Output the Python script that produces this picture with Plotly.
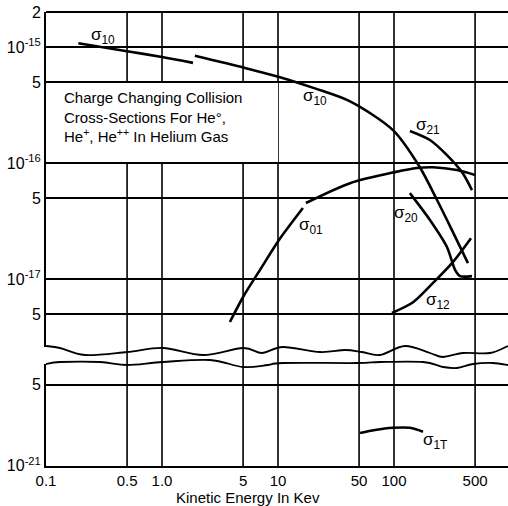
import math
import plotly.graph_objects as go

# ---------------- data ----------------
sigma10_a_x = [0.19, 0.5, 1.0, 1.85]
sigma10_a_y = [1.08e-15, 9.2e-16, 8.2e-16, 7.3e-16]
sigma10_b_x = [1.92, 5.2, 10.4, 20.8, 41.8, 98, 167, 235, 316, 434]
sigma10_b_y = [8.4e-16, 6.6e-16, 5.5e-16, 4.4e-16, 3.4e-16, 1.92e-16, 9.2e-17, 4.8e-17, 2.64e-17, 1.37e-17]
sigma01_a_x = [3.85, 5.0, 7.0, 10.2, 16.4]
sigma01_a_y = [4.26e-18, 7.0e-18, 1.2e-17, 2.17e-17, 4.09e-17]
sigma01_b_x = [17.4, 41.8, 102, 158, 217, 349, 499]
sigma01_b_y = [4.52e-17, 6.7e-17, 8.35e-17, 9.06e-17, 9.2e-17, 8.7e-17, 7.9e-17]
sigma21_x = [137, 204, 286, 385, 470]
sigma21_y = [1.89e-16, 1.58e-16, 1.17e-16, 8.35e-17, 5.85e-17]
sigma20_x = [137, 204, 286, 336, 371, 470]
sigma20_y = [5.5e-17, 3.23e-17, 1.89e-17, 1.2e-17, 1.06e-17, 1.06e-17]
sigma12_x = [96, 146, 217, 316, 461]
sigma12_y = [5.1e-18, 6.3e-18, 9.25e-18, 1.37e-17, 2.25e-17]
sigma1T_x = [51, 68.5, 98, 137, 178]
sigma1T_y = [1.92e-21, 2.04e-21, 2.13e-21, 2.13e-21, 1.97e-21]

x_tickvals = [0.1, 0.5, 1, 5, 10, 50, 100, 500]
x_ticktext = ["0.1", "0.5", "1.0", "5", "10", "50", "100", "500"]
x_gridvals = [0.5, 1, 5, 10, 50, 100, 500]
y_up_tickvals = [2e-15, 1e-15, 5e-16, 1e-16, 5e-17, 1e-17, 5e-18]
y_up_ticktext = ["2", "10<sup>-15</sup>", "5", "10<sup>-16</sup>", "5", "10<sup>-17</sup>", "5"]
y_lo_tickvals = [5e-21, 1e-21]
y_lo_ticktext = ["5", "10<sup>-21</sup>"]

title_lines = ["Charge Changing Collision", "Cross-Sections For He°,",
               "He<sup>+</sup>, He<sup>++</sup> In Helium Gas"]

# ---------------- layout helpers ----------------
W, H = 508, 506
ML, MR, MT, MB = 46, 0, 12, 40
PW, PH = W - ML - MR, H - MT - MB


def P(px, py):
    return (px - ML) / PW, (H - MB - py) / PH


FONT = "Liberation Sans, Arial, sans-serif"
fig = go.Figure()


def add_line(xs, ys, yaxis="y"):
    fig.add_trace(go.Scatter(x=xs, y=ys, mode="lines", yaxis=yaxis,
                             line=dict(color="black", width=2.6, shape="spline", smoothing=0.8),
                             showlegend=False, hoverinfo="skip"))


add_line(sigma10_a_x, sigma10_a_y)
add_line(sigma10_b_x, sigma10_b_y)
add_line(sigma01_a_x, sigma01_a_y)
add_line(sigma01_b_x, sigma01_b_y)
add_line(sigma21_x, sigma21_y)
add_line(sigma20_x, sigma20_y)
add_line(sigma12_x, sigma12_y)
add_line(sigma1T_x, sigma1T_y, yaxis="y2")

shapes = []
# vertical grid lines through both panels
for xv in x_gridvals:
    shapes.append(dict(type="line", xref="x", yref="paper", x0=xv, x1=xv, y0=0, y1=1,
                       line=dict(color="black", width=1.6), layer="below"))
# white box behind the caption
shapes.append(dict(type="rect", xref="x", yref="y", x0=0.1, x1=10, y0=1e-16, y1=5e-16,
                   fillcolor="white", line=dict(width=0), layer="below"))
# top border
shapes.append(dict(type="line", xref="paper", yref="paper", x0=0, x1=1, y0=1, y1=1,
                   line=dict(color="black", width=1.8)))


def smooth_path(pts):
    pp = [P(*p) for p in pts]
    d = "M %.5f,%.5f" % pp[0]
    n = len(pp)
    for i in range(n - 1):
        p0 = pp[i - 1] if i > 0 else pp[i]
        p1 = pp[i]
        p2 = pp[i + 1]
        p3 = pp[i + 2] if i + 2 < n else pp[i + 1]
        c1 = (p1[0] + (p2[0] - p0[0]) / 6, p1[1] + (p2[1] - p0[1]) / 6)
        c2 = (p2[0] - (p3[0] - p1[0]) / 6, p2[1] - (p3[1] - p1[1]) / 6)
        d += " C %.5f,%.5f %.5f,%.5f %.5f,%.5f" % (c1 + c2 + p2)
    return d


wave_upper = [(46, 346), (60, 348), (85, 355), (127, 352), (163, 348), (203, 355), (243, 348),
              (262, 353), (283, 347), (320, 352), (345, 350), (362, 352), (380, 355), (405, 346),
              (430, 353), (443, 357), (463, 353), (490, 353), (508, 346)]
wave_lower = [(46, 364), (60, 362), (100, 362), (127, 365), (163, 362), (210, 360), (243, 367),
              (268, 365), (283, 363), (357, 363), (380, 362), (423, 362), (443, 367), (457, 368),
              (473, 364), (493, 363), (508, 365)]
for w in (wave_upper, wave_lower):
    shapes.append(dict(type="path", xref="paper", yref="paper", path=smooth_path(w),
                       line=dict(color="black", width=1.8)))

annotations = []


def lab(px, py, text, size=17):
    x, y = P(px, py)
    annotations.append(dict(x=x, y=y, xref="paper", yref="paper", text=text, showarrow=False,
                            xanchor="center", yanchor="middle",
                            font=dict(family=FONT, size=size, color="black")))


lab(103, 36, "σ<sub>10</sub>")
lab(315, 97, "σ<sub>10</sub>")
lab(428, 126, "σ<sub>21</sub>")
lab(406, 214, "σ<sub>20</sub>")
lab(311, 226, "σ<sub>01</sub>")
lab(438, 301, "σ<sub>12</sub>")
lab(435, 441, "σ<sub>1T</sub>")

cx, cy = P(62, 117)
annotations.append(dict(x=cx, y=cy, xref="paper", yref="paper", text="<br>".join(title_lines),
                        showarrow=False, xanchor="left", yanchor="middle", align="left",
                        font=dict(family=FONT, size=15, color="black")))
tx, ty = P(248, 497)
annotations.append(dict(x=tx, y=ty, xref="paper", yref="paper", text="Kinetic Energy In Kev",
                        showarrow=False, xanchor="center", yanchor="middle",
                        font=dict(family=FONT, size=15, color="black")))

fig.update_layout(
    width=W, height=H, margin=dict(l=ML, r=MR, t=MT, b=MB, pad=0),
    paper_bgcolor="white", plot_bgcolor="white",
    shapes=shapes, annotations=annotations, showlegend=False,
    xaxis=dict(type="log", range=[-1, (W - ML - MR) / 116 - 1], anchor="y2",
               tickvals=x_tickvals, ticktext=x_ticktext, showgrid=False, zeroline=False,
               showline=True, linecolor="black", linewidth=2, ticks="",
               ticklabelstandoff=0,
               tickfont=dict(family=FONT, size=15, color="black")),
    yaxis=dict(type="log", domain=[(H - MB - 347) / PH, 1], anchor="x",
               range=[-17.586, math.log10(2e-15) + 0.001],
               tickvals=y_up_tickvals, ticktext=y_up_ticktext,
               showgrid=True, gridcolor="black", gridwidth=1.6, zeroline=False,
               showline=True, linecolor="black", linewidth=2, ticks="",
               tickfont=dict(family=FONT, size=16, color="black")),
    yaxis2=dict(type="log", domain=[0, (H - MB - 364) / PH], anchor="x",
                range=[-21.001, -20.121],
                tickvals=y_lo_tickvals, ticktext=y_lo_ticktext,
                showgrid=True, gridcolor="black", gridwidth=1.6, zeroline=False,
                showline=True, linecolor="black", linewidth=2, ticks="",
                tickfont=dict(family=FONT, size=16, color="black")),
)

fig.write_html("out.html")
